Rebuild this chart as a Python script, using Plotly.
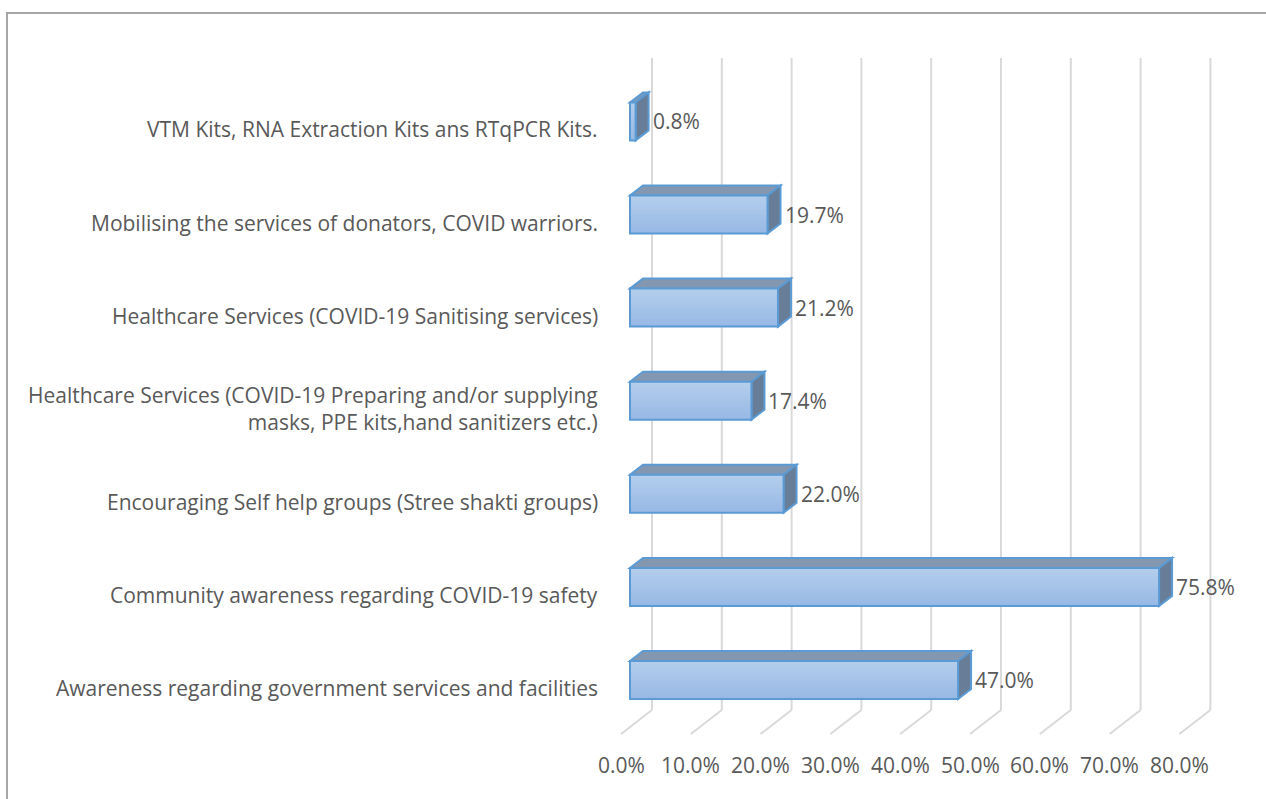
import plotly.graph_objects as go

# Categories listed bottom-to-top
categories = [
    "Awareness regarding government services and facilities",
    "Community awareness regarding COVID-19 safety",
    "Encouraging Self help groups (Stree shakti groups)",
    "Healthcare Services (COVID-19 Preparing and/or supplying<br>masks, PPE kits,hand sanitizers etc.)",
    "Healthcare Services (COVID-19 Sanitising services)",
    "Mobilising the services of donators, COVID warriors.",
    "VTM Kits, RNA Extraction Kits ans RTqPCR Kits.",
]
values = [47.0, 75.8, 22.0, 17.4, 21.2, 19.7, 0.8]
tick_values = [0, 10, 20, 30, 40, 50, 60, 70, 80]
tick_labels = ["0.0%", "10.0%", "20.0%", "30.0%", "40.0%", "50.0%", "60.0%", "70.0%", "80.0%"]

W, H = 1266, 799
# axis scaling (pixels per unit)
PX_X = 6.98       # per percentage point
PX_Y = 93.1       # per category step
X0_PX = 630       # pixel of 0% on the bar front plane
Y0_PX = 680       # pixel of the first category

x_range = [-X0_PX / PX_X, (W - X0_PX) / PX_X]
y_range = [(Y0_PX - H) / PX_Y, Y0_PX / PX_Y]

# 3D depth settings (in data units)
half = 19 / PX_Y             # half bar height
ddx, ddy = 13 / PX_X, 10 / PX_Y   # bar depth offset
back_dx = 22 / PX_X          # back wall offset
front_dx = -9 / PX_X         # floor front offset
floor_back = -30 / PX_Y
floor_front = -54 / PX_Y
wall_top = 622 / PX_Y

TEXT = "#595959"
GRID = "#D9D9D9"
EDGE = "#5B9BD5"
FONT = "Open Sans"
FSIZE = 21

ypos = list(range(len(categories)))


def mix(c1, c2, t):
    a = [int(c1[i:i + 2], 16) for i in (1, 3, 5)]
    b = [int(c2[i:i + 2], 16) for i in (1, 3, 5)]
    return "#" + "".join(f"{round(a[k] + (b[k] - a[k]) * t):02X}" for k in range(3))


shapes = []
# back wall gridlines and floor lines
for v in tick_values:
    xb = v + back_dx
    shapes.append(dict(type="line", xref="x", yref="y", x0=xb, x1=xb, y0=floor_back, y1=wall_top,
                       line=dict(color=GRID, width=2), layer="below"))
    shapes.append(dict(type="line", xref="x", yref="y", x0=xb, x1=v + front_dx, y0=floor_back, y1=floor_front,
                       line=dict(color=GRID, width=2), layer="below"))

# top and side faces of each bar, plus a vertical gradient on the front face
N_STRIPS = 14
for y, v in zip(ypos, values):
    top = y + half
    bot = y - half
    shapes.append(dict(type="path", xref="x", yref="y", layer="below",
                       path=f"M 0 {top} L {v} {top} L {v + ddx} {top + ddy} L {ddx} {top + ddy} Z",
                       fillcolor="#8497B0", line=dict(color=EDGE, width=2)))
    shapes.append(dict(type="path", xref="x", yref="y", layer="below",
                       path=f"M {v} {bot} L {v} {top} L {v + ddx} {top + ddy} L {v + ddx} {bot + ddy} Z",
                       fillcolor="#687D97", line=dict(color=EDGE, width=2)))
    # overlapping bands, each running down to the bar bottom, so no seams show
    for k in range(N_STRIPS):
        y1 = top - (top - bot) * k / N_STRIPS
        shapes.append(dict(type="rect", xref="x", yref="y", layer="below", x0=0, x1=v, y0=bot, y1=y1,
                           fillcolor=mix("#B3CDEC", "#98B9E5", k / (N_STRIPS - 1)),
                           line=dict(width=0)))

# chart border
shapes.append(dict(type="rect", xref="paper", yref="paper", x0=7 / W, x1=1.05, y0=-0.05, y1=1 - 13 / H,
                   line=dict(color="#A6A6A6", width=2), fillcolor="rgba(0,0,0,0)", layer="above"))

fig = go.Figure()
fig.add_trace(go.Bar(
    x=values, y=ypos, orientation="h", width=2 * half,
    marker=dict(color="rgba(0,0,0,0)", line=dict(color=EDGE, width=2)),
    hoverinfo="skip",
))

annotations = []
# category labels
for y, c in zip(ypos, categories):
    annotations.append(dict(x=-30 / PX_X, y=y, xref="x", yref="y", text=c, showarrow=False,
                            xanchor="right", yanchor="middle", align="right", yshift=-8,
                            font=dict(family=FONT, size=FSIZE, color=TEXT)))
# value labels
for y, v in zip(ypos, values):
    annotations.append(dict(x=v + ddx, y=y, xref="x", yref="y", text=f"{v:.1f}%", showarrow=False,
                            xanchor="left", yanchor="middle", xshift=2,
                            font=dict(family=FONT, size=FSIZE, color=TEXT)))
# axis tick labels
for v, t in zip(tick_values, tick_labels):
    annotations.append(dict(x=v + front_dx, y=-85 / PX_Y, xref="x", yref="y", text=t, showarrow=False,
                            xanchor="center", yanchor="middle",
                            font=dict(family=FONT, size=FSIZE, color=TEXT)))

fig.update_layout(
    width=W, height=H,
    margin=dict(l=0, r=0, t=0, b=0),
    paper_bgcolor="white", plot_bgcolor="white",
    showlegend=False,
    xaxis=dict(range=x_range, visible=False, fixedrange=True),
    yaxis=dict(range=y_range, visible=False, fixedrange=True),
    shapes=shapes,
    annotations=annotations,
)

fig.write_html("out.html")
